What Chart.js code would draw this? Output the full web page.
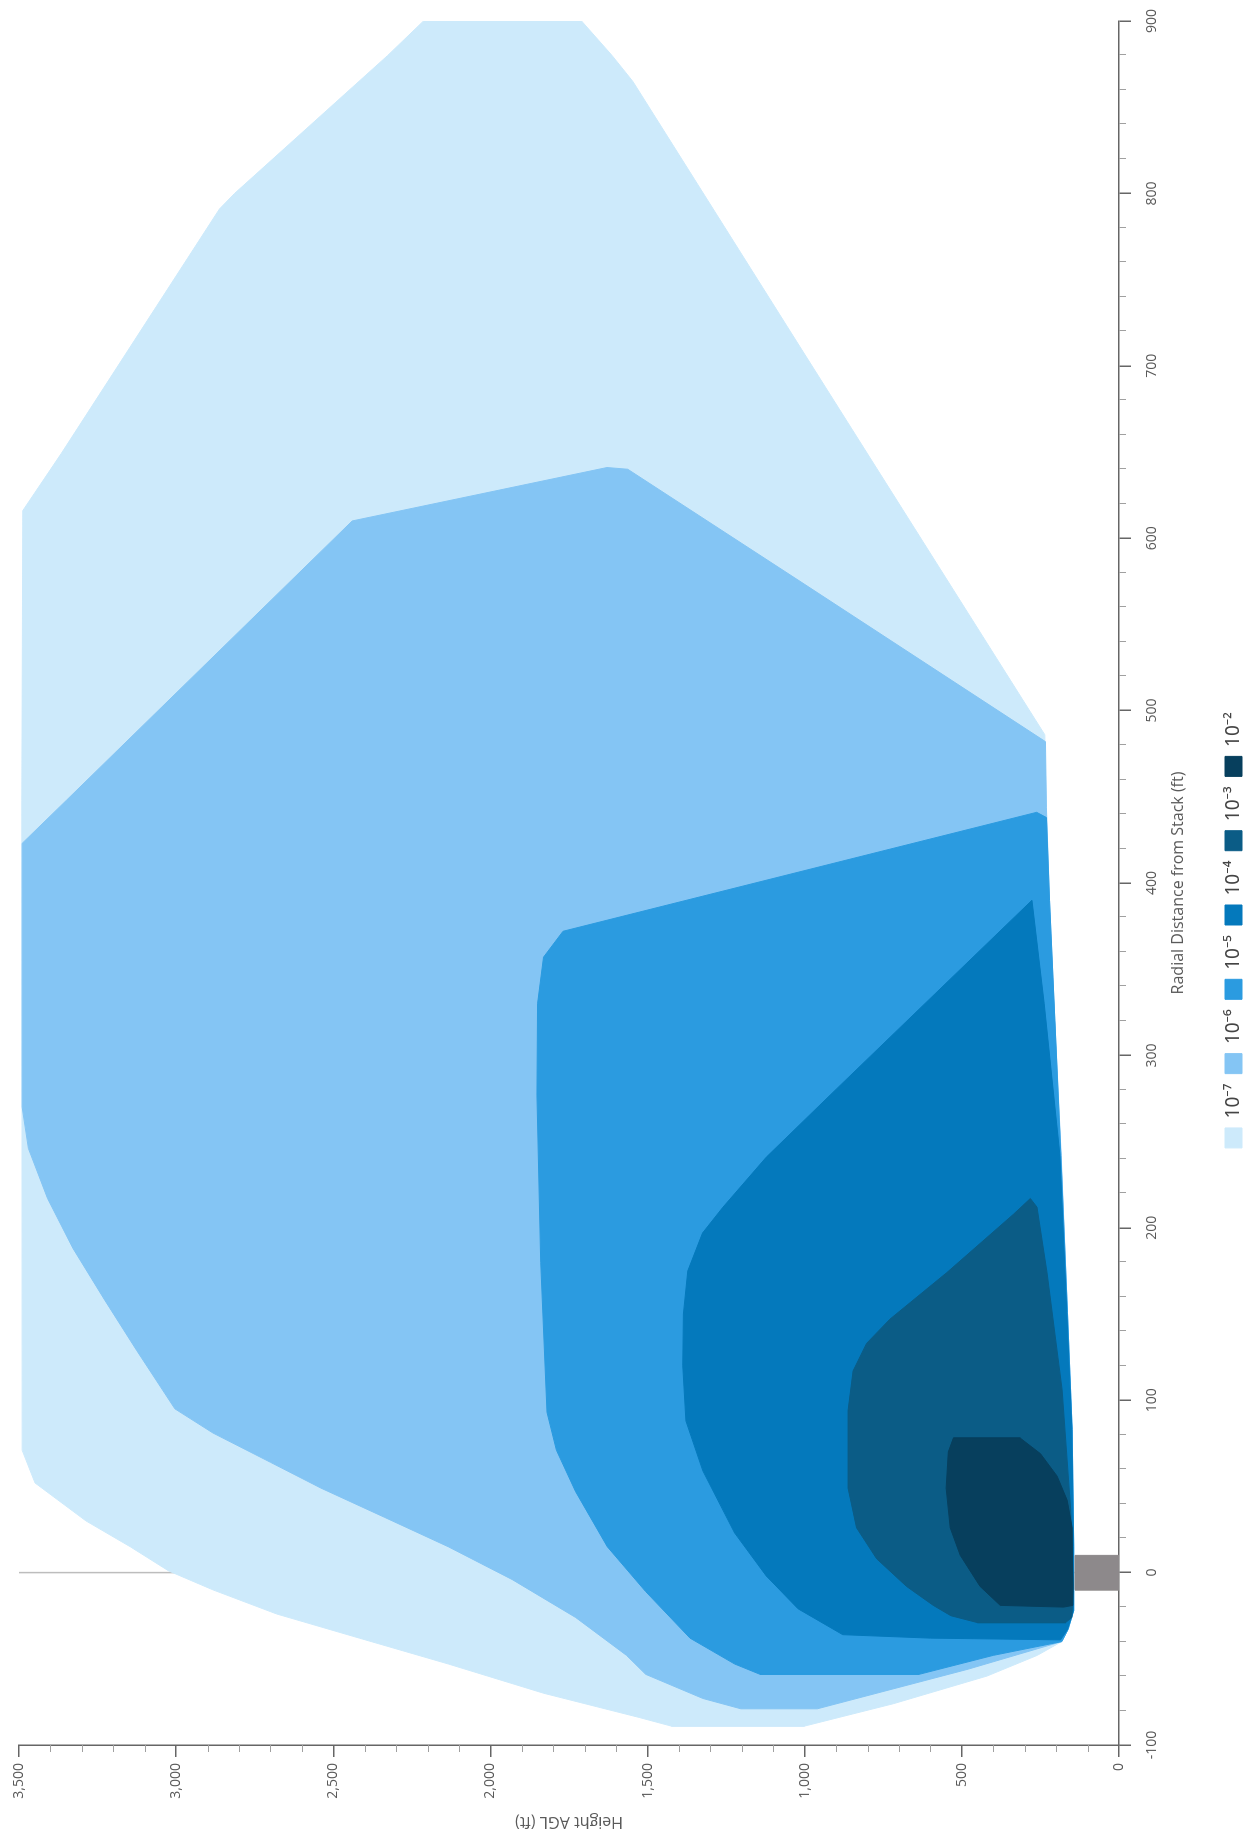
<!DOCTYPE html>
<html>
<head>
<meta charset="utf-8">
<script src="https://cdn.jsdelivr.net/npm/chart.js@4.4.0/dist/chart.umd.min.js"></script>
<style>
  html, body { margin: 0; padding: 0; background: #ffffff; overflow: hidden; width: 1249px; height: 1839px; }
  #wrap { position: absolute; left: 0; top: 0; width: 1839px; height: 1249px;
          transform-origin: 0 0; transform: translate(0px, 1839px) rotate(-90deg); }
</style>
</head>
<body>
<div id="wrap"><canvas id="c" width="1839" height="1249"></canvas></div>
<script>
// ---- data (radial distance ft, height AGL ft) ----
const levelLabels = ['10⁻⁷', '10⁻⁶', '10⁻⁵', '10⁻⁴', '10⁻³', '10⁻²'];
const xTitle = 'Radial Distance from Stack (ft)';
const yTitle = 'Height AGL (ft)';

const contour1e7 = [[900,2213],[880,2327],[800,2814],[791,2862],[649,3366],[616,3488],[448,3491],[71,3490],[52,3449],[30,3287],[15,3146],[1,3024],[-10,2883],[-24,2680],[-38,2417],[-53,2134],[-70,1830],[-84,1527],[-89,1425],[-89,1000],[-76,717],[-60,420],[-48,260],[-40,182],[-33,162],[-22,144],[15,144],[83,149],[151,164],[242,185],[320,205],[390,222],[444,232],[486,236],[711,1015],[865,1547],[880,1613],[900,1710],[900,2213]];
const contour1e6 = [[641,1629],[640,1563],[575,1015],[482,234],[444,231],[390,221],[320,204],[242,184],[151,164],[83,149],[15,144],[-22,144],[-33,162],[-40,182],[-56,480],[-79,960],[-79,1203],[-73,1324],[-59,1506],[-48,1567],[-26,1729],[-4,1931],[15,2134],[32,2336],[49,2539],[64,2700],[81,2883],[95,3004],[129,3126],[158,3227],[188,3328],[217,3409],[246,3470],[270,3490],[423,3490],[448,3349],[610,2440],[641,1629]];
const contour1e5 = [[372,1769],[357,1831],[330,1850],[277,1852],[180,1840],[93,1820],[71,1790],[47,1729],[15,1628],[-11,1506],[-38,1365],[-53,1223],[-59,1142],[-59,636],[-48,400],[-40,182],[-33,162],[-22,144],[15,144],[83,149],[151,164],[242,185],[320,204],[390,221],[438,231],[441,262],[372,1769]];
const contour1e4 = [[390,277],[277,919],[241,1122],[212,1260],[197,1325],[175,1372],[150,1386],[120,1388],[88,1378],[59,1324],[23,1223],[-2,1122],[-21,1021],[-36,879],[-38,600],[-39,186],[-33,164],[-22,145],[15,145],[83,150],[151,166],[242,188],[330,238],[390,277]];
const contour1e3 = [[217,282],[208,335],[174,548],[147,729],[133,803],[117,846],[94,862],[49,862],[26,835],[8,771],[-8,676],[-19,591],[-25,535],[-29,450],[-29,170],[-26,150],[-8,145],[37,154],[106,181],[174,229],[212,261],[217,282]];
const contour1e2 = [[78,527],[78,314],[69,250],[56,197],[42,165],[26,149],[-19,147],[-20,176],[-19,378],[-8,442],[10,505],[26,537],[49,550],[70,543],[78,527]];
const stackOutline = [[-10,0],[10,0],[10,140],[-10,140],[-10,0]];
const stackCenterline = [[0,140],[0,3500]];

const xMin = -100, xMax = 900, xStep = 100, xMinorStep = 20;
const yMin = 0, yMax = 3500, yStep = 500, yMinorStep = 100;

// ---- styles ----
const levelColors = ['#cdeafb', '#84c5f4', '#2b9be0', '#0479bc', '#0b5c86', '#073f5d'];
const stackColor = '#8d898b';
const lineColor = '#bdbdbd';
const axisColor = '#666666';
const textColor = '#5a5a5a';

const toPts = arr => arr.map(p => ({x: p[0], y: p[1]}));
const contours = [contour1e7, contour1e6, contour1e5, contour1e4, contour1e3, contour1e2];

const datasets = [];
datasets.push({ label: 'stack', data: toPts(stackOutline), backgroundColor: stackColor, borderColor: stackColor,
  borderWidth: 1, pointRadius: 0, fill: 'shape' });
for (let i = contours.length - 1; i >= 0; i--) {
  datasets.push({ label: levelLabels[i], data: toPts(contours[i]), backgroundColor: levelColors[i],
    borderColor: levelColors[i], borderWidth: 1, pointRadius: 0, fill: 'shape' });
}
datasets.push({ label: 'centerline', data: toPts(stackCenterline), borderColor: lineColor,
  backgroundColor: lineColor, borderWidth: 1.5, pointRadius: 0, fill: false });

const minorTicks = {
  id: 'minorTicks',
  afterDraw(chart) {
    const {ctx, chartArea} = chart;
    const xs = chart.scales.x, ys = chart.scales.y;
    ctx.save();
    ctx.strokeStyle = '#a0a0a0';
    ctx.lineWidth = 1;
    for (let v = xMin; v <= xMax; v += xMinorStep) {
      if (v % xStep === 0) continue;
      const px = Math.round(xs.getPixelForValue(v)) + 0.5;
      ctx.beginPath(); ctx.moveTo(px, chartArea.bottom); ctx.lineTo(px, chartArea.bottom + 7); ctx.stroke();
    }
    for (let v = yMin; v <= yMax; v += yMinorStep) {
      if (v % yStep === 0) continue;
      const py = Math.round(ys.getPixelForValue(v)) + 0.5;
      ctx.beginPath(); ctx.moveTo(chartArea.left, py); ctx.lineTo(chartArea.left - 7, py); ctx.stroke();
    }
    ctx.restore();
  }
};

const tickFont = { family: "'Open Sans', sans-serif", size: 14 };
const titleFont = { family: "'Open Sans', sans-serif", size: 16 };

new Chart(document.getElementById('c'), {
  type: 'line',
  data: { datasets },
  plugins: [minorTicks],
  options: {
    responsive: false,
    animation: false,
    events: [],
    layout: { padding: { top: 19, right: 21, bottom: -4, left: 0 } },
    plugins: {
      tooltip: { enabled: false },
      legend: {
        position: 'bottom',
        reverse: true,
        labels: {
          filter: item => levelLabels.includes(item.text),
          boxWidth: 20, boxHeight: 17, padding: 10,
          color: '#444444',
          font: { family: "'Noto Sans', sans-serif", size: 19 }
        }
      }
    },
    scales: {
      x: {
        type: 'linear', position: 'bottom', min: xMin, max: xMax,
        afterFit: s => { s.height = 95; s.paddingRight = 0; },
        ticks: { stepSize: xStep, maxRotation: 0, autoSkip: false, color: textColor, font: tickFont, padding: 13 },
        grid: { drawOnChartArea: false, drawTicks: true, tickLength: 12, color: axisColor, lineWidth: 1.5 },
        border: { display: true, color: axisColor, width: 1.5 },
        title: { display: true, text: xTitle, color: textColor, font: titleFont, padding: { top: 4, bottom: 26 } }
      },
      y: {
        type: 'linear', position: 'left', min: yMin, max: yMax,
        afterFit: s => { s.width = 94; },
        ticks: { stepSize: yStep, color: textColor, font: tickFont, padding: 6 },
        grid: { drawOnChartArea: false, drawTicks: true, tickLength: 12, color: axisColor, lineWidth: 1.5 },
        border: { display: true, color: axisColor, width: 1.5 },
        title: { display: true, text: yTitle, color: textColor, font: titleFont, padding: { top: 8, bottom: 4 } }
      }
    }
  }
});
</script>
</body>
</html>
